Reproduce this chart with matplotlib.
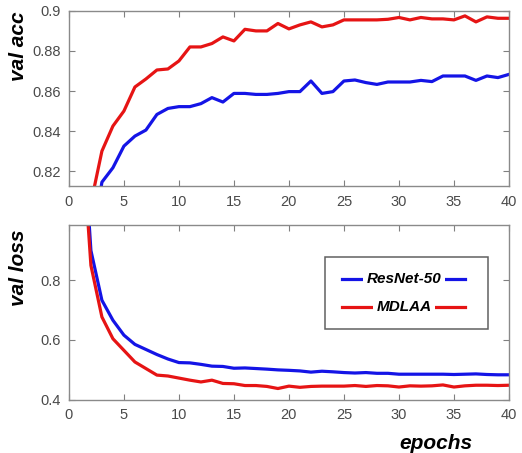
import matplotlib
matplotlib.use("Agg")
import matplotlib.pyplot as plt
from matplotlib.patches import Rectangle
from matplotlib.lines import Line2D

plt.rcParams['font.family'] = ['Liberation Sans', 'DejaVu Sans']

# epochs
epochs = list(range(1, 41))

# validation accuracy
acc_resnet = [0.72, 0.78, 0.8145, 0.8217, 0.8325, 0.8375, 0.8405, 0.8483, 0.8513, 0.8522,
              0.8522, 0.8537, 0.8567, 0.8545, 0.8588, 0.8588, 0.8583, 0.8583, 0.8588, 0.8597,
              0.8597, 0.865, 0.8588, 0.8597, 0.865, 0.8655, 0.8642, 0.8633, 0.8645, 0.8645,
              0.8645, 0.8653, 0.8647, 0.8675, 0.8675, 0.8675, 0.8653, 0.8675, 0.8667, 0.8683]
acc_mdlaa = [0.75, 0.804, 0.83, 0.8425, 0.85, 0.862, 0.866, 0.8705, 0.871, 0.875,
             0.882, 0.882, 0.8837, 0.887, 0.885, 0.8908, 0.890, 0.890, 0.8937, 0.891,
             0.893, 0.8945, 0.892, 0.893, 0.8955, 0.8955, 0.8955, 0.8955, 0.8958, 0.8967,
             0.8955, 0.8967, 0.896, 0.896, 0.8955, 0.8975, 0.8945, 0.897, 0.8963, 0.8963]

# validation loss
loss_resnet = [1.47, 0.90, 0.733, 0.666, 0.616, 0.585, 0.568, 0.551, 0.536, 0.524,
               0.523, 0.518, 0.512, 0.511, 0.505, 0.506, 0.504, 0.502, 0.4995, 0.498,
               0.496, 0.492, 0.495, 0.493, 0.4905, 0.489, 0.4905, 0.488, 0.488, 0.485,
               0.485, 0.485, 0.485, 0.485, 0.484, 0.485, 0.486, 0.484, 0.483, 0.483]
loss_mdlaa = [1.39, 0.85, 0.677, 0.604, 0.565, 0.526, 0.504, 0.482, 0.479, 0.472,
              0.465, 0.459, 0.465, 0.454, 0.453, 0.447, 0.447, 0.444, 0.437, 0.445,
              0.441, 0.444, 0.445, 0.445, 0.445, 0.447, 0.444, 0.447, 0.446, 0.442,
              0.446, 0.445, 0.446, 0.449, 0.442, 0.446, 0.448, 0.448, 0.447, 0.448]

names = ['ResNet-50', 'MDLAA']
colors = ['#1414e6', '#e61414']

fig = plt.figure(figsize=(5.22, 4.53), dpi=100)
ax1 = fig.add_axes([0.132, 0.589, 0.843, 0.387])
ax2 = fig.add_axes([0.132, 0.118, 0.843, 0.385])

ax1.plot(epochs, acc_resnet, color=colors[0], lw=2.3)
ax1.plot(epochs, acc_mdlaa, color=colors[1], lw=2.3)
ax2.plot(epochs, loss_resnet, color=colors[0], lw=2.3)
ax2.plot(epochs, loss_mdlaa, color=colors[1], lw=2.3)

ax1.set_ylim(0.8125, 0.9)
ax1.set_yticks([0.82, 0.84, 0.86, 0.88, 0.9])
ax1.set_yticklabels(['0.82', '0.84', '0.86', '0.88', '0.9'])
ax2.set_ylim(0.4, 0.985)
ax2.set_yticks([0.4, 0.6, 0.8])
ax2.set_yticklabels(['0.4', '0.6', '0.8'])

for ax in (ax1, ax2):
    ax.set_xlim(0, 40)
    ax.set_xticks(range(0, 41, 5))
    ax.tick_params(direction='in', length=4, width=0.8, color='#808080',
                   labelcolor='#4a4a4a', labelsize=10.5, top=True, right=True, pad=6)
    for s in ax.spines.values():
        s.set_color('#8a8a8a')
        s.set_linewidth(1.0)

lab = dict(fontsize=15, fontweight='bold', fontstyle='italic', color='black')
ax1.set_ylabel('val acc', **lab)
ax1.yaxis.set_label_coords(-0.093, 0.797)
ax2.set_ylabel('val loss', **lab)
ax2.yaxis.set_label_coords(-0.093, 0.754)
ax2.set_xlabel('epochs', **lab)
ax2.xaxis.set_label_coords(0.833, -0.2)

# legend (MATLAB style: line on both sides of the name)
ax2.add_patch(Rectangle((0.582, 0.404), 0.370, 0.413, transform=ax2.transAxes,
                        facecolor='white', edgecolor='#606060', lw=1.1, zorder=5))
for i, (name, c) in enumerate(zip(names, colors)):
    yy = 0.690 - i * 0.160
    ax2.add_line(Line2D([0.620, 0.900], [yy, yy], transform=ax2.transAxes,
                        color=c, lw=2.3, zorder=6))
    ax2.text(0.762, yy, name, transform=ax2.transAxes, ha='center', va='center',
             fontsize=11, fontweight='bold', fontstyle='italic', zorder=7,
             bbox=dict(facecolor='white', edgecolor='none', pad=2.5))

fig.savefig('out.png', dpi=100)
